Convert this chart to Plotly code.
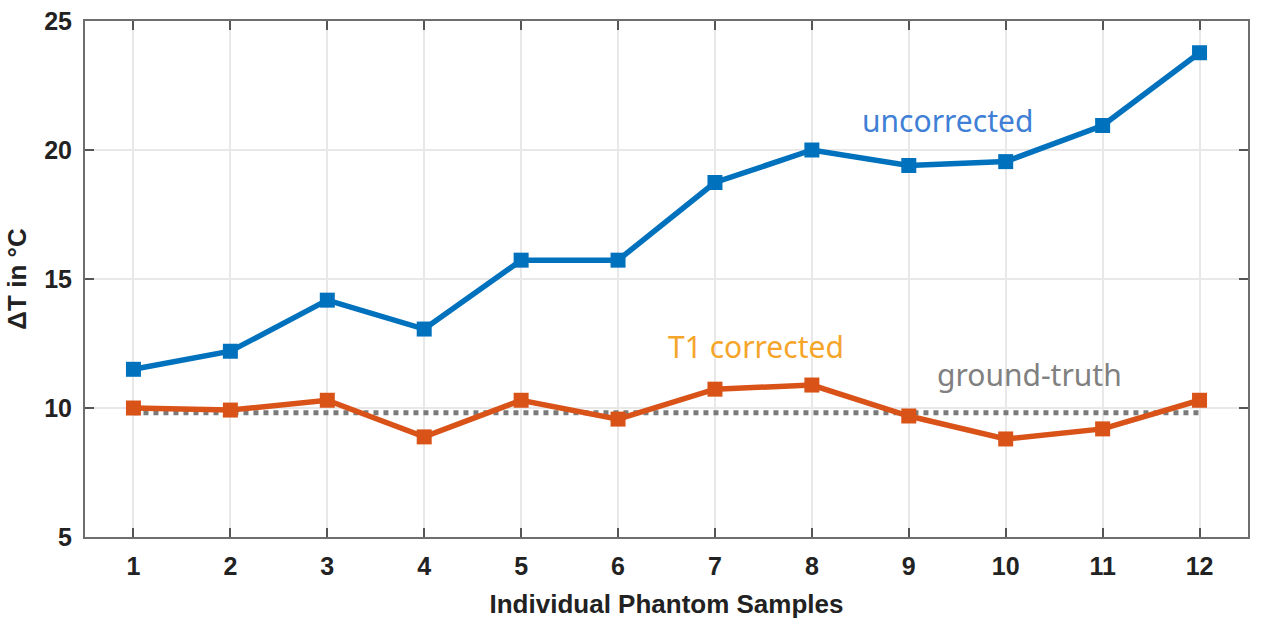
import plotly.graph_objects as go

# Phantom sample index
samples = [1, 2, 3, 4, 5, 6, 7, 8, 9, 10, 11, 12]

# Temperature rise (delta T in degC) per sample
uncorrected = [11.5, 12.2, 14.18, 13.06, 15.73, 15.73, 18.74, 20.0, 19.4, 19.55, 20.95, 23.77]
t1_corrected = [10.0, 9.92, 10.3, 8.88, 10.3, 9.57, 10.73, 10.89, 9.69, 8.8, 9.19, 10.3]
ground_truth = [9.82] * 12

fig = go.Figure()

# dotted reference line first so the data lines sit on top
fig.add_trace(go.Scatter(
    x=samples, y=ground_truth, mode='lines', name='ground-truth',
    line=dict(color='#7a7a7a', width=5, dash='dot'),
))
fig.add_trace(go.Scatter(
    x=samples, y=uncorrected, mode='lines+markers', name='uncorrected',
    line=dict(color='#0072BD', width=5.5),
    marker=dict(symbol='square', size=15, color='#0072BD'),
))
fig.add_trace(go.Scatter(
    x=samples, y=t1_corrected, mode='lines+markers', name='T1 corrected',
    line=dict(color='#D95319', width=5.5),
    marker=dict(symbol='square', size=15, color='#D95319'),
))

label_font = 'Noto Sans, Open Sans, sans-serif'
fig.add_annotation(x=9.4, y=21.14, text='uncorrected', showarrow=False,
                   font=dict(family=label_font, size=30, color='#3F7FD6'))
fig.add_annotation(x=7.42, y=12.4, text='T1 corrected', showarrow=False,
                   font=dict(family=label_font, size=30, color='#F5A52A'))
fig.add_annotation(x=10.25, y=11.28, text='ground-truth', showarrow=False,
                   font=dict(family=label_font, size=30, color='#808080'))

tick_font = dict(family='Liberation Sans, Arial', size=25, color='#222222', weight='bold')
title_font = dict(family='Liberation Sans, Arial', size=26, color='#222222', weight='bold')

axis_style = dict(
    showline=True, linecolor='#6e6e6e', linewidth=2, mirror='ticks',
    ticks='inside', ticklen=9, tickwidth=2, tickcolor='#555555',
    showgrid=True, gridcolor='#e8e8e8', gridwidth=1.5, zeroline=False,
    tickfont=tick_font, automargin=False, ticklabelstandoff=6,
)

fig.update_xaxes(
    range=[0.5, 12.5], tickvals=samples,
    title=dict(text='Individual Phantom Samples', font=title_font, standoff=16),
    **axis_style,
)
fig.update_yaxes(
    range=[5, 25], tickvals=[5, 10, 15, 20, 25],
    title=dict(text='ΔT in °C', font=title_font, standoff=10),
    **axis_style,
)

fig.update_layout(
    width=1265, height=635,
    margin=dict(l=85, r=17, t=21, b=98),
    plot_bgcolor='white', paper_bgcolor='white',
    showlegend=False,
)

# drop the default page margin so the figure sits at the window corner
fig.write_html("out.html", config={'displayModeBar': False},
               post_script="document.body.style.margin='0';")
